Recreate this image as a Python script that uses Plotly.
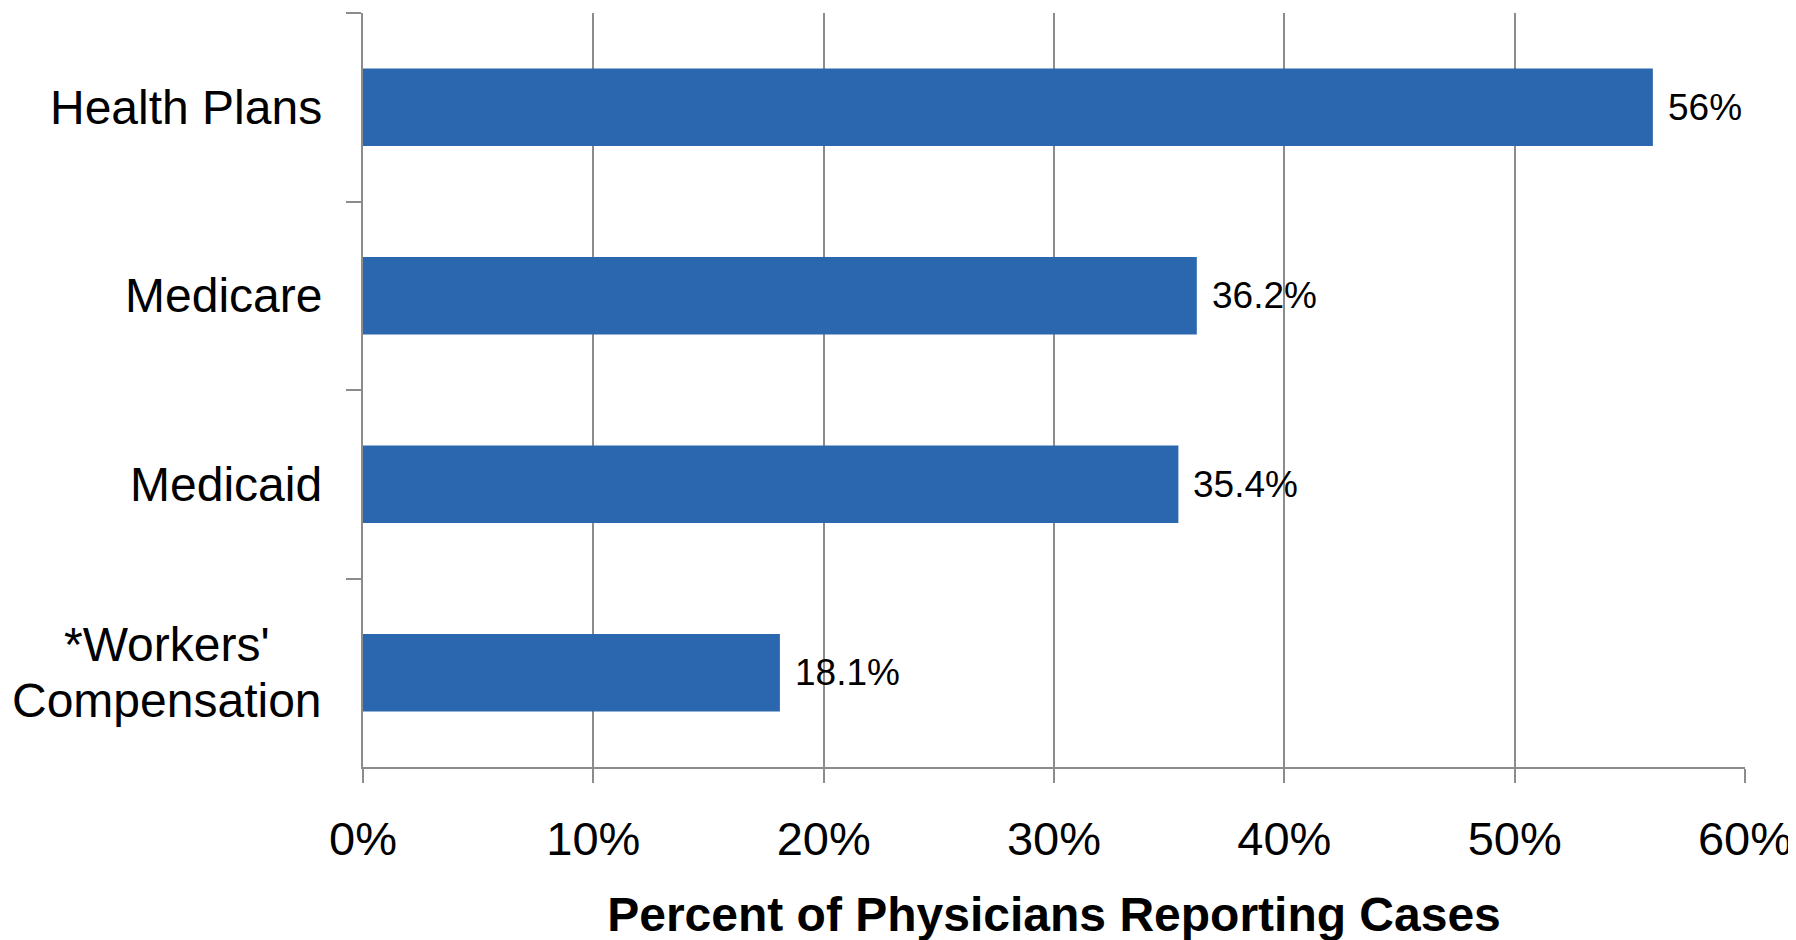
import plotly.graph_objects as go

categories = ["Health Plans", "Medicare", "Medicaid", "*Workers'<br>Compensation"]
values = [56, 36.2, 35.4, 18.1]
value_labels = ["56%", "36.2%", "35.4%", "18.1%"]
x_ticks = [0, 10, 20, 30, 40, 50, 60]
x_ticklabels = ["0%", "10%", "20%", "30%", "40%", "50%", "60%"]

FONT = "Liberation Sans, Arial, sans-serif"
BAR = "#2B67AE"
GRID = "#8C8C8C"
LINE_GAP = 56

fig = go.Figure()
fig.add_trace(go.Bar(
    x=values, y=categories, orientation="h",
    marker=dict(color=BAR, line=dict(width=0)),
    hoverinfo="skip",
))

annotations = []
for c, v, t in zip(categories, values, value_labels):
    annotations.append(dict(
        x=v, y=c, xref="x", yref="y", text=t, showarrow=False,
        xanchor="left", yanchor="middle", xshift=13,
        font=dict(family=FONT, size=37, color="black"),
    ))
    lines = c.split("<br>")
    n = len(lines)
    for i, ln in enumerate(lines):
        annotations.append(dict(
            x=0, y=c, xref="paper", yref="y", text=ln, showarrow=False,
            xanchor="center" if n > 1 else "right", yanchor="middle",
            xshift=-39 if n == 1 else -196,
            yshift=((n - 1) / 2 - i) * LINE_GAP,
            font=dict(family=FONT, size=48, color="black"),
        ))

fig.update_layout(
    width=1796, height=940,
    margin=dict(l=355, r=59, t=5, b=181),
    paper_bgcolor="white", plot_bgcolor="white",
    showlegend=False,
    bargap=0.59,
    font=dict(family=FONT, color="black"),
    annotations=annotations,
    xaxis=dict(
        range=[0, 60], tickvals=x_ticks, ticktext=x_ticklabels,
        showgrid=True, gridcolor=GRID, gridwidth=2,
        showline=True, linecolor=GRID, linewidth=2,
        ticks="outside", ticklen=14, tickcolor=GRID, tickwidth=2,
        tickfont=dict(family=FONT, size=47, color="black"),
        ticklabelstandoff=16,
        zeroline=False,
        title=dict(text="<b>Percent of Physicians Reporting Cases</b>",
                   font=dict(family=FONT, size=48, color="black"), standoff=33),
        fixedrange=True,
    ),
    yaxis=dict(
        type="category", autorange="reversed",
        showgrid=False, showline=True, linecolor=GRID, linewidth=2,
        ticks="outside", ticklen=15, tickcolor=GRID, tickwidth=2,
        tickson="boundaries", showticklabels=False,
        fixedrange=True,
    ),
)

fig.write_html("out.html")
